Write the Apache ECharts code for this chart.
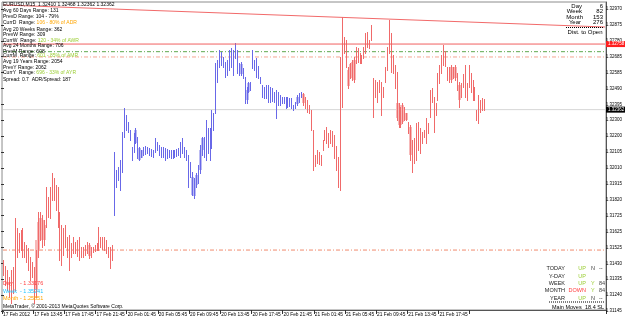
<!DOCTYPE html>
<html><head><meta charset="utf-8">
<script src="https://cdn.jsdelivr.net/npm/echarts@6/dist/echarts.min.js"></script>
<style>html,body{margin:0;padding:0;background:#fff}#c{width:625px;height:319px}</style>
</head><body><div id="c"></div>
<script>
// ---------- data ----------
const highs = [1.31454,1.31417,1.31393,1.31351,1.31393,1.31411,1.31707,1.31647,1.31617,1.31635,
1.31647,1.31562,1.31544,1.31526,1.31472,1.31442,1.31411,1.31514,1.31744,1.31744,
1.31725,1.31695,1.31895,1.31834,1.31895,1.31979,1.31949,1.31907,1.31895,1.31744,
1.31665,1.31647,1.31665,1.31593,1.31605,1.31556,1.31593,1.31562,1.31574,1.31593,
1.31532,1.31532,1.31544,1.31562,1.31556,1.31532,1.31532,1.31544,1.31556,1.31653,
1.31593,1.31593,1.31593,1.31574,1.31532,1.31532,1.31544,1.32106,1.31997,1.32015,
1.32058,1.32227,1.32372,1.32329,1.32287,1.32239,1.32136,1.32221,1.32251,1.32197,
1.32136,1.32118,1.32136,1.32142,1.32136,1.32130,1.32124,1.32118,1.32190,1.32166,
1.32148,1.32136,1.32136,1.32130,1.32124,1.32118,1.32118,1.32118,1.32118,1.32124,
1.32130,1.32166,1.32190,1.32136,1.32118,1.32088,1.32046,1.31985,1.31949,1.31979,
1.32027,1.32148,1.32197,1.32197,1.32299,1.32251,1.32251,1.32360,1.32341,1.32643,
1.32662,1.32722,1.32710,1.32680,1.32650,1.32662,1.32722,1.32734,1.32722,1.32764,
1.32722,1.32643,1.32650,1.32613,1.32559,1.32499,1.32529,1.32529,1.32722,1.32662,
1.32674,1.32625,1.32559,1.32511,1.32499,1.32511,1.32511,1.32499,1.32492,1.32468,
1.32480,1.32468,1.32450,1.32438,1.32438,1.32438,1.32438,1.32432,1.32432,1.32390,
1.32408,1.32450,1.32462,1.32468,1.32462,1.32438,1.32420,1.32390,1.32360,1.32239,
1.32088,1.32118,1.32106,1.32088,1.32178,1.32239,1.32257,1.32221,1.32239,1.32233,
1.32209,1.32142,1.32076,1.32680,1.32921,1.32801,1.32782,1.32619,1.32643,1.32662,
1.32680,1.32740,1.32734,1.32704,1.32692,1.32740,1.32825,1.32831,1.32782,1.32873,
1.32553,1.32541,1.32529,1.32541,1.32529,1.32499,1.32619,1.32740,1.32903,1.32825,
1.32692,1.32631,1.32589,1.32402,1.32378,1.32402,1.32378,1.32341,1.32287,1.32269,
1.32178,1.32190,1.32281,1.32287,1.32251,1.32227,1.32239,1.32311,1.32281,1.32480,
1.32492,1.32438,1.32402,1.32583,1.32631,1.32692,1.32752,1.32716,1.32619,1.32619,
1.32631,1.32619,1.32631,1.32583,1.32529,1.32523,1.32577,1.32631,1.32523,1.32631,
1.32583,1.32541,1.32499,1.32360,1.32450,1.32420,1.32432,1.32426];
const lows = [1.31363,1.31303,1.31272,1.31230,1.31194,1.31254,1.31272,1.31472,1.31502,1.31514,
1.31472,1.31472,1.31442,1.31393,1.31333,1.31351,1.31194,1.31230,1.31472,1.31574,
1.31532,1.31544,1.31653,1.31713,1.31707,1.31816,1.31816,1.31756,1.31653,1.31454,
1.31423,1.31484,1.31532,1.31472,1.31393,1.31472,1.31496,1.31496,1.31478,1.31454,
1.31472,1.31472,1.31484,1.31496,1.31466,1.31472,1.31502,1.31508,1.31514,1.31514,
1.31532,1.31520,1.31514,1.31496,1.31472,1.31405,1.31454,1.31725,1.31895,1.31937,
1.31876,1.31985,1.32197,1.32239,1.32227,1.32178,1.32058,1.32106,1.32160,1.32070,
1.32058,1.32076,1.32088,1.32094,1.32100,1.32088,1.32082,1.32076,1.32106,1.32118,
1.32088,1.32076,1.32076,1.32058,1.32070,1.32076,1.32070,1.32070,1.32076,1.32082,
1.32088,1.32076,1.32100,1.32076,1.32058,1.31895,1.31955,1.31846,1.31828,1.31895,
1.31919,1.31979,1.32088,1.32076,1.32058,1.32100,1.32058,1.32130,1.32239,1.32341,
1.32529,1.32619,1.32631,1.32619,1.32559,1.32571,1.32601,1.32619,1.32571,1.32674,
1.32583,1.32571,1.32571,1.32553,1.32402,1.32402,1.32468,1.32480,1.32613,1.32601,
1.32559,1.32553,1.32523,1.32438,1.32432,1.32432,1.32408,1.32408,1.32414,1.32408,
1.32311,1.32390,1.32390,1.32402,1.32402,1.32372,1.32378,1.32384,1.32372,1.32360,
1.32372,1.32390,1.32408,1.32438,1.32390,1.32372,1.32348,1.32341,1.32239,1.31997,
1.32021,1.32039,1.32033,1.32027,1.32118,1.32178,1.32160,1.32136,1.32160,1.32142,
1.32070,1.31997,1.31895,1.31876,1.32378,1.32704,1.32619,1.32492,1.32553,1.32541,
1.32529,1.32643,1.32650,1.32643,1.32643,1.32674,1.32704,1.32740,1.32734,1.32782,
1.32317,1.32438,1.32408,1.32468,1.32329,1.32438,1.32529,1.32601,1.32704,1.32589,
1.32583,1.32492,1.32299,1.32257,1.32257,1.32281,1.32299,1.32299,1.32221,1.32058,
1.31985,1.32039,1.32058,1.32118,1.32100,1.32160,1.32197,1.32160,1.32221,1.32317,
1.32408,1.32227,1.32329,1.32420,1.32523,1.32583,1.32631,1.32625,1.32541,1.32529,
1.32529,1.32553,1.32541,1.32480,1.32378,1.32438,1.32499,1.32438,1.32420,1.32499,
1.32468,1.32420,1.32420,1.32299,1.32281,1.32348,1.32360,1.32360];
const trendRuns = [[0, 56, 'down'], [57, 153, 'up'], [154, 247, 'down']];
const paleIndex = [17,18,19,20,21,44,68,70,71,97,98,99,101,102,122,125,126,151,154,177,178,179,180,202,203,204,205,207,209,230,232,234];
const paleHigh = [1.31574,1.31683,1.31707,1.31695,1.31665,1.31544,1.32239,1.32130,1.32118,1.31955,1.31937,1.31967,1.32118,1.32190,1.32637,1.32480,1.32523,1.32438,1.32456,1.32601,1.32637,1.32650,1.32662,1.32402,1.32390,1.32372,1.32390,1.32341,1.32257,1.32619,1.32619,1.32511];
const paleLow = [1.31272,1.31514,1.31574,1.31586,1.31574,1.31478,1.32160,1.32058,1.32070,1.31846,1.31840,1.31907,1.31997,1.32118,1.32577,1.32420,1.32468,1.32396,1.32402,1.32505,1.32559,1.32553,1.32541,1.32311,1.32269,1.32269,1.32287,1.32299,1.32088,1.32541,1.32553,1.32420];
const priceTicks = ['1.31145','1.31240','1.31335','1.31430','1.31525','1.31625','1.31725','1.31820','1.31915','1.32010',
'1.32105','1.32200','1.32300','1.32395','1.32490','1.32585','1.32685','1.32780','1.32875','1.32970'];
const timeLabels = ['17 Feb 2012','17 Feb 13:45','17 Feb 17:45','17 Feb 21:45','20 Feb 01:45','20 Feb 05:45','20 Feb 09:45','20 Feb 13:45',
'20 Feb 17:45','20 Feb 21:45','21 Feb 01:45','21 Feb 05:45','21 Feb 09:45','21 Feb 13:45','21 Feb 17:45','21 Feb 21:45'];
const slotCount = 310;
const upperLine = [[0, 1.32994], [309, 1.32861]];
const prevHigh = 1.32758;
const greenLevel = 1.32712;
const salmonLevel = 1.32680;
const lowLevel = 1.31514;
const bidPrice = 1.32362;

// ---------- chart ----------
const FONT = 'Liberation Sans, Arial, sans-serif';
const COL = { bar: ['#f06a6a', '#6868e8'], pale: ['#f7b9b9', '#bcbcf3'] };
function trendAt(i) { for (const r of trendRuns) if (i >= r[0] && i <= r[1]) return r[2]; return 'down'; }
const categories = Array.from({ length: slotCount }, (_, i) => String(i));
const barData = highs.map((h, i) => [i, h, lows[i], trendAt(i) === 'up' ? 1 : 0]);
const paleData = paleIndex.map((idx, k) => [idx, paleHigh[k], paleLow[k], trendAt(idx) === 'up' ? 1 : 0]);

function renderBar(params, api) {
  const i = api.value(0);
  const t = api.coord([i, api.value(1)]);
  const b = api.coord([i, api.value(2)]);
  const x = Math.round(t[0]) + 0.5;
  return { type: 'line', shape: { x1: x, y1: Math.round(t[1]), x2: x, y2: Math.round(b[1]) + 1 },
    style: { stroke: COL.bar[api.value(3)], lineWidth: 1 } };
}
function renderPale(params, api) {
  const i = api.value(0);
  const t = api.coord([i, api.value(1)]);
  const b = api.coord([i, api.value(2)]);
  const x = Math.round(t[0]) - 1;
  return { type: 'rect', shape: { x: x, y: Math.round(t[1]), width: 3, height: Math.max(1, Math.round(b[1] - t[1])) },
    style: { fill: COL.pale[api.value(3)] } };
}

function txt(x, y, text, o) {
  o = o || {};
  const st = { text: text, fill: o.fill || '#000', fontSize: o.size || 5, fontFamily: FONT,
    fontWeight: o.weight || 'normal', align: o.align || 'left', verticalAlign: 'middle' };
  if (o.rich) st.rich = o.rich;
  return { type: 'text', x: x, y: y, silent: true, z: 100, style: st };
}
function richLine(x, y, a, b, color) {
  return txt(x, y, '{a|' + a + '}{b|' + b + '}', { rich: {
    a: { fill: '#000', color: '#000', fontSize: 5, fontFamily: FONT },
    b: { fill: color, color: color, fontSize: 5, fontFamily: FONT } } });
}
const graphics = [
  txt(3, 5, 'EURUSD,M15  1.32410 1.32468 1.32362 1.32362'),
  txt(3, 11, 'Avg 60 Days Range: 131'),
  txt(3, 17, 'PrevD Range: 104 - 79%'),
  richLine(3, 23, 'CurrD  Range: ', '106 - 80% of ADR', '#ffa500'),
  txt(3, 29.5, 'Avg 20 Weeks Range: 362'),
  txt(3, 35, 'PrevW Range: 309'),
  richLine(3, 41, 'CurrW  Range: ', '120 - 34% of AWR', '#9acd32'),
  txt(3, 46, 'Avg 24 Months Range: 706'),
  txt(3, 51.5, 'PrevM Range: 608'),
  richLine(3, 56, 'CurrM  Range: ', '601 - 85% of AMR', '#9acd32'),
  txt(3, 62, 'Avg 19 Years Range: 2054'),
  txt(3, 67.7, 'PrevY Range: 2062'),
  richLine(3, 73, 'CurrY  Range: ', '696 - 33% of AYR', '#9acd32'),
  txt(3, 80, 'Spread: 0.7  ADR/Spread: 187'),
  txt(582, 6, 'Day', { size: 6, align: 'right' }), txt(603, 6, '6', { size: 6, align: 'right' }),
  txt(582, 11.7, 'Week', { size: 6, align: 'right' }), txt(603, 11.7, '82', { size: 6, align: 'right' }),
  txt(583, 17.3, 'Month', { size: 6, align: 'right' }), txt(603, 17.3, '153', { size: 6, align: 'right' }),
  txt(581, 22.7, 'Year', { size: 6, align: 'right' }), txt(603, 22.7, '276', { size: 6, align: 'right' }),
  { type: 'line', silent: true, z: 100, shape: { x1: 566, y1: 27.5, x2: 604, y2: 27.5 }, style: { stroke: '#000', lineWidth: 1, lineDash: [1, 1] } },
  txt(585, 32.7, 'Dist. to Open', { size: 6, align: 'center' }),
  txt(3, 283.3, 'Day', { size: 5.5, fill: '#ff3c3c' }), txt(20, 283.3, '- 1.33176', { size: 5.5, fill: '#ff3c3c' }),
  txt(3, 291, 'Week', { size: 5.5, fill: '#22c4ff' }), txt(20, 291, '- 1.35241', { size: 5.5, fill: '#22c4ff' }),
  txt(3, 298.8, 'Month', { size: 5.5, fill: '#ffa500' }), txt(20, 298.8, '- 1.25851', { size: 5.5, fill: '#ffa500' }),
  txt(3, 306.5, 'MetaTrader, \u00a9 2001-2013 MetaQuotes Software Corp.', { size: 5 }),
  { type: 'line', silent: true, z: 100, shape: { x1: 549, y1: 302, x2: 604, y2: 302 }, style: { stroke: '#000', lineWidth: 1, lineDash: [1, 1] } },
  txt(552, 307, 'Main Moves', { size: 5.5 }),
  txt(585, 307, '18.4 SL', { size: 5.5 })
];
const movesRows = [['TODAY', 'UP', 'N', '--'], ['Y-DAY', 'UP', '', ''], ['WEEK', 'UP', 'Y', '84'], ['MONTH', 'DOWN', 'Y', '84'], ['YEAR', 'UP', 'N', '--']];
movesRows.forEach((r, k) => {
  const y = 268.6 + k * 7.4;
  graphics.push(txt(565, y, r[0], { size: 5.5, fill: '#222', align: 'right' }));
  graphics.push(txt(586, y, r[1], { size: 5.5, fill: r[1] === 'UP' ? '#9acd32' : '#ff3c3c', align: 'right' }));
  graphics.push(txt(591, y, r[2], { size: 5.5, fill: r[2] === 'Y' ? '#9acd32' : '#444' }));
  graphics.push(txt(599, y, r[3], { size: 5.5, fill: '#444' }));
});

const dashDot = [4, 2, 1, 2];
function levelSeries(name, value, color, type, z, boxColor) {
  const s = { type: 'line', name: name, xAxisIndex: 0, yAxisIndex: 0, data: [[0, value], [slotCount - 1, value]],
    symbol: 'none', silent: true, z: z, clip: false,
    lineStyle: { color: color, width: 1, type: type } };
  if (boxColor) {
    s.endLabel = { show: true, formatter: value.toFixed(5), backgroundColor: boxColor, color: '#fff',
      fontSize: 4.5, fontFamily: FONT, padding: [1, 3, 0, 2], distance: 1 };
  }
  return s;
}
const option = {
  animation: false,
  backgroundColor: '#ffffff',
  grid: [
    { left: 1, right: 19, top: 2, bottom: 9, show: true, borderColor: '#8c8c8c', borderWidth: 1, containLabel: false },
    { left: 1, right: 19, top: 9, bottom: 8, show: false, containLabel: false }
  ],
  xAxis: [
    { type: 'category', gridIndex: 0, data: categories, boundaryGap: true,
      axisLine: { show: true, lineStyle: { color: '#555', width: 1 } },
      axisTick: { show: true, length: 4, lineStyle: { color: '#333' },
        interval: (i) => i % 16 === 0 && i / 16 < timeLabels.length },
      axisLabel: { show: true, interval: (i) => i % 16 === 0 && i / 16 < timeLabels.length,
        formatter: (v, i) => timeLabels[i / 16] || '', align: 'left', margin: 2,
        fontSize: 4.8, color: '#000', fontFamily: FONT, showMaxLabel: false },
      splitLine: { show: false } },
    { type: 'value', gridIndex: 1, show: false, min: 0, max: 1 }
  ],
  yAxis: [
    { type: 'value', gridIndex: 0, position: 'right', min: 1.31152, max: 1.33012,
      axisLine: { show: true, lineStyle: { color: '#555', width: 1 } },
      axisTick: { show: false }, axisLabel: { show: false }, splitLine: { show: false } },
    { type: 'category', gridIndex: 1, position: 'right', data: priceTicks, boundaryGap: false,
      axisLine: { show: false },
      axisTick: { show: true, length: 3, interval: 0, lineStyle: { color: '#333' } },
      axisLabel: { show: true, interval: 0, margin: 1, fontSize: 4.5, color: '#000', fontFamily: FONT },
      splitLine: { show: false } }
  ],
  graphic: graphics,
  series: [
    levelSeries('bid', bidPrice, '#d6d6d6', 'solid', 1, '#000000'),
    levelSeries('lowLevel', lowLevel, '#f08a6e', dashDot, 1, null),
    levelSeries('salmon', salmonLevel, '#f5a592', dashDot, 1, null),
    levelSeries('green', greenLevel, '#5fa84f', dashDot, 1, null),
    levelSeries('prevHigh', prevHigh, '#f26060', 'solid', 5, '#ff1e1e'),
    { type: 'custom', name: 'bodies', xAxisIndex: 0, yAxisIndex: 0, data: paleData,
      encode: { x: 0, y: [1, 2] }, renderItem: renderPale, silent: true, z: 2 },
    { type: 'custom', name: 'bars', xAxisIndex: 0, yAxisIndex: 0, data: barData,
      encode: { x: 0, y: [1, 2] }, renderItem: renderBar, silent: true, z: 3 },
    { type: 'line', name: 'upper', xAxisIndex: 0, yAxisIndex: 0, data: upperLine, symbol: 'none', silent: true, z: 4,
      lineStyle: { color: '#f26a6a', width: 1 } }
  ]
};
const chart = echarts.init(document.getElementById('c'), null, { renderer: 'canvas' });
chart.setOption(option);
</script>
</body></html>
